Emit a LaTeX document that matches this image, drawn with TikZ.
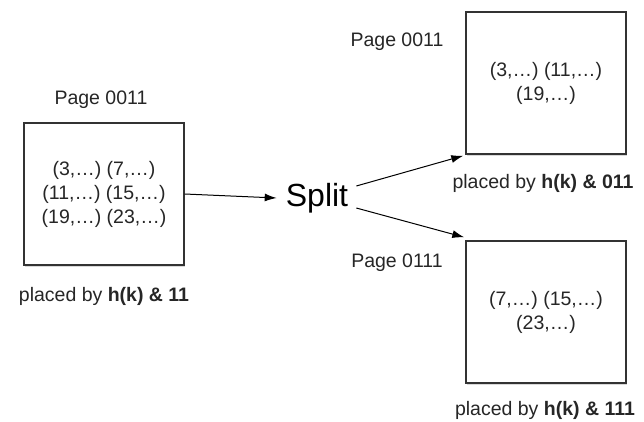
\documentclass[tikz,border=0pt]{standalone}
\usepackage{fontspec}
\setmainfont{Liberation Sans}
\usetikzlibrary{arrows.meta,shadows}
\tikzset{
  page/.style={draw=black!80, line width=1.4pt, fill=white,
    minimum width=160pt, minimum height=142pt,
    drop shadow={shadow xshift=1pt, shadow yshift=-1.5pt, opacity=0.3},
    align=center, font=\fontsize{19.5}{24}\selectfont, text=black!85},
  label/.style={font=\fontsize{19.5}{22}\selectfont, text=black!85, inner sep=0pt},
  conn/.style={line width=1pt, -{Latex[length=12pt,width=8pt]}}
}
\begin{document}
\begin{tikzpicture}[x=1pt,y=-1pt]
  \useasboundingbox (0,0) rectangle (644,421);
  % old page
  \node[page] (old) at (104,194) {(3,\dots) (7,\dots)\\(11,\dots) (15,\dots)\\(19,\dots) (23,\dots)};
  \node[label] (oldname) at (101,100) {Page 0011};
  \node[label] (oldrule) at (104,296) {placed by \textbf{h(k) \& 11}};
  % split
  \node[inner sep=0pt, font=\fontsize{32}{34}\selectfont] (split) at (317,198) {Split};
  % new pages
  \node[page] (up) at (546,83) {(3,\dots) (11,\dots)\\(19,\dots)};
  \node[label] (upname) at (397,42) {Page 0011};
  \node[label] (uprule) at (543,183) {placed by \textbf{h(k) \& 011}};
  \node[page] (low) at (546,312) {(7,\dots) (15,\dots)\\(23,\dots)};
  \node[label] (lowname) at (397,263) {Page 0111};
  \node[label] (lowrule) at (545,410) {placed by \textbf{h(k) \& 111}};
  % arrows
  \draw[conn] (old.east) -- ([xshift=-9pt]split.west);
  \draw[conn] ([xshift=8pt,yshift=12pt]split.east) -- ([xshift=-2pt,yshift=-1pt]up.south west);
  \draw[conn] ([xshift=8pt,yshift=-10pt]split.east) -- ([xshift=-1pt,yshift=3pt]low.north west);
\end{tikzpicture}
\end{document}
